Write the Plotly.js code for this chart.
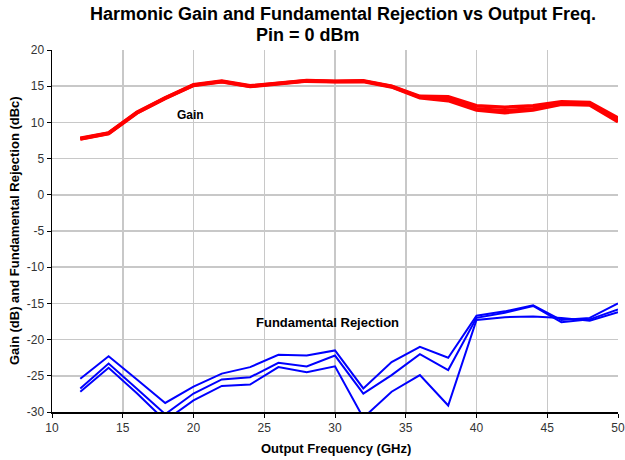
<!DOCTYPE html>
<html>
<head>
<meta charset="utf-8">
<script src="https://cdn.plot.ly/plotly-3.0.1.min.js"></script>
<style>html,body{margin:0;padding:0;background:#fff}#chart{width:625px;height:460px}</style>
</head>
<body>
<div id="chart"></div>
<script>
const freq = [12,14,16,18,20,22,24,26,28,30,32,34,36,38,40,42,44,46,48,50];
const gainA = [7.8,8.55,11.4,13.4,15.2,15.7,15.05,15.45,15.8,15.7,15.75,15.0,13.6,13.55,12.3,12.1,12.3,12.85,12.75,10.6];
const gainB = [7.7,8.45,11.3,13.3,15.1,15.6,14.95,15.35,15.7,15.6,15.65,14.9,13.4,13.0,11.7,11.35,11.7,12.5,12.4,10.1];
const gainC = [7.75,8.5,11.35,13.35,15.15,15.65,15.0,15.4,15.75,15.65,15.7,14.95,13.5,13.3,11.9,11.6,11.9,12.6,12.5,10.3];
const rejA = [-25.4,-22.3,-25.5,-28.75,-26.5,-24.7,-23.8,-22.1,-22.2,-21.5,-26.75,-23.1,-21.0,-22.5,-16.7,-16.1,-15.25,-17.3,-17.0,-15.0];
const rejB = [-26.75,-23.3,-26.8,-30.3,-27.45,-25.5,-25.2,-23.2,-23.7,-22.2,-27.45,-24.9,-22.0,-24.2,-17.0,-16.3,-15.35,-17.6,-17.2,-15.85];
const rejC = [-27.2,-23.9,-27.4,-31.2,-28.4,-26.4,-26.2,-23.8,-24.5,-23.7,-30.8,-27.2,-24.9,-29.1,-17.3,-16.9,-16.8,-17.0,-17.4,-16.2];
const xTicks = [10,15,20,25,30,35,40,45,50];
const yTicks = [-30,-25,-20,-15,-10,-5,0,5,10,15,20];

const red = {color:'#ff0000', width:3.5};
const blue = {color:'#0000ff', width:2};
const traces = [
  {x:freq, y:gainA, mode:'lines', line:red},
  {x:freq, y:gainB, mode:'lines', line:red},
  {x:freq, y:gainC, mode:'lines', line:red},
  {x:freq, y:rejA, mode:'lines', line:blue},
  {x:freq, y:rejB, mode:'lines', line:blue},
  {x:freq, y:rejC, mode:'lines', line:blue}
];
const L = 52, R = 7;
const W = 625 - L - R; // plot width px
const px = p => (p-L)/W;
const H = 362;
const py = p => (412-p)/H;
const titleFont = {family:'Liberation Sans, Arial, sans-serif', size:18, color:'#000'};
const labFont = {family:'Liberation Sans, Arial, sans-serif', size:13, color:'#000'};
const layout = {
  width:625, height:460,
  margin:{l:L, r:R, t:50, b:48},
  paper_bgcolor:'#fff', plot_bgcolor:'#fff',
  showlegend:false,
  font:{family:'Liberation Sans, Arial, sans-serif', size:12, color:'#222'},
  xaxis:{range:[10,50], tickvals:xTicks, ticktext:xTicks.map(String),
    showgrid:true, gridcolor:'#c8c8c8', gridwidth:1.5, zeroline:false,
    showline:true, linecolor:'#000', linewidth:1.5, ticks:'outside', ticklen:4, tickcolor:'#000',
    tickfont:{size:12, color:'#333'}, fixedrange:true},
  yaxis:{range:[-30,20], tickvals:yTicks, ticktext:yTicks.map(String),
    showgrid:true, gridcolor:'#c8c8c8', gridwidth:1.5, zeroline:false,
    showline:true, linecolor:'#000', linewidth:1.5, ticks:'outside', ticklen:4, tickcolor:'#000',
    tickfont:{size:12, color:'#333'}, fixedrange:true},
  annotations:[
    {text:'<b>Harmonic Gain and Fundamental Rejection vs Output Freq.</b>', xref:'paper', yref:'paper',
      x:px(342.5), y:py(14.5), xanchor:'center', yanchor:'middle', showarrow:false, font:titleFont},
    {text:'<b>Pin = 0 dBm</b>', xref:'paper', yref:'paper',
      x:px(307.5), y:py(35), xanchor:'center', yanchor:'middle', showarrow:false, font:titleFont},
    {text:'<b>Gain</b>', xref:'paper', yref:'paper', x:px(190), y:py(115), xanchor:'center', yanchor:'middle',
      showarrow:false, font:{size:12, color:'#000'}},
    {text:'<b>Fundamental Rejection</b>', xref:'paper', yref:'paper', x:px(327), y:py(322), xanchor:'center', yanchor:'middle',
      showarrow:false, font:labFont},
    {text:'<b>Output Frequency (GHz)</b>', xref:'paper', yref:'paper', x:px(336), y:py(449), xanchor:'center', yanchor:'middle',
      showarrow:false, font:labFont},
    {text:'<b>Gain (dB) and Fundamental Rejection (dBc)</b>', xref:'paper', yref:'paper', x:px(14), y:py(231), xanchor:'center', yanchor:'middle',
      textangle:-90, showarrow:false, font:labFont}
  ]
};
Plotly.newPlot('chart', traces, layout, {displayModeBar:false, staticPlot:true});
</script>
</body>
</html>
